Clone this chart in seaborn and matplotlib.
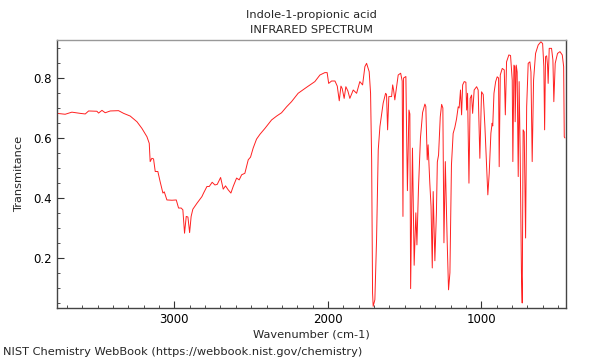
import numpy as np
import pandas as pd
import matplotlib
matplotlib.use("Agg")
import matplotlib.pyplot as plt
from matplotlib.ticker import MultipleLocator
import seaborn as sns

# IR spectrum of Indole-1-propionic acid
wavenumber = [
    3764, 3712, 3668, 3614, 3581, 3559, 3505, 3494, 3472, 3451,
    3418, 3364, 3331, 3288, 3244, 3212, 3179, 3164, 3158, 3147,
    3136, 3125, 3108, 3093, 3075, 3066, 3049, 3016, 2988, 2973,
    2956, 2945, 2934, 2923, 2912, 2901, 2891, 2880, 2853, 2821,
    2810, 2788, 2773, 2754, 2736, 2721, 2699, 2682, 2667, 2650,
    2632, 2617, 2595, 2578, 2562, 2541, 2530, 2519, 2504, 2487,
    2465, 2443, 2410, 2367, 2334, 2302, 2269, 2237, 2194, 2139,
    2085, 2052, 2020, 2005, 1995, 1976, 1954, 1939, 1926, 1915,
    1907, 1894, 1883, 1870, 1857, 1835, 1813, 1792, 1774, 1759,
    1748, 1731, 1722, 1715, 1709, 1705, 1694, 1683, 1672, 1661,
    1640, 1624, 1618, 1611, 1603, 1585, 1578, 1572, 1564, 1542,
    1526, 1516, 1511, 1507, 1492, 1482, 1472, 1466, 1461, 1449,
    1438, 1427, 1420, 1410, 1397, 1383, 1368, 1362, 1353, 1347,
    1336, 1328, 1320, 1314, 1303, 1293, 1287, 1279, 1268, 1259,
    1251, 1244, 1235, 1223, 1214, 1205, 1195, 1184, 1173, 1162,
    1151, 1145, 1136, 1129, 1122, 1112, 1101, 1096, 1090, 1081,
    1073, 1064, 1057, 1047, 1031, 1021, 1010, 999, 988, 977,
    966, 958, 949, 938, 930, 926, 918, 907, 897, 888,
    884, 877, 864, 851, 844, 836, 821, 810, 799, 795,
    788, 782, 780, 773, 767, 760, 754, 747, 739, 734,
    728, 721, 712, 705, 695, 684, 677, 669, 660, 647,
    630, 612, 601, 593, 588, 582, 575, 569, 565, 558,
    543, 534, 528, 519, 504, 488, 473, 464, 460, 456,
]
transmittance = [
    0.682, 0.679, 0.686, 0.682, 0.680, 0.690, 0.689, 0.683, 0.692, 0.684,
    0.690, 0.691, 0.682, 0.673, 0.654, 0.632, 0.604, 0.582, 0.521, 0.532,
    0.530, 0.488, 0.488, 0.454, 0.416, 0.420, 0.393, 0.392, 0.393, 0.366,
    0.366, 0.360, 0.282, 0.338, 0.336, 0.284, 0.338, 0.362, 0.382, 0.404,
    0.416, 0.438, 0.438, 0.452, 0.443, 0.445, 0.468, 0.429, 0.440, 0.427,
    0.416, 0.438, 0.466, 0.460, 0.477, 0.482, 0.504, 0.527, 0.536, 0.566,
    0.596, 0.612, 0.632, 0.660, 0.673, 0.684, 0.704, 0.721, 0.749, 0.769,
    0.788, 0.810, 0.818, 0.818, 0.782, 0.790, 0.790, 0.773, 0.724, 0.773,
    0.765, 0.732, 0.771, 0.757, 0.732, 0.760, 0.749, 0.788, 0.777, 0.838,
    0.849, 0.821, 0.749, 0.527, 0.082, 0.038, 0.060, 0.260, 0.560, 0.638,
    0.716, 0.749, 0.745, 0.627, 0.738, 0.738, 0.777, 0.760, 0.727, 0.810,
    0.816, 0.790, 0.338, 0.800, 0.805, 0.424, 0.693, 0.680, 0.097, 0.566,
    0.175, 0.350, 0.243, 0.430, 0.600, 0.685, 0.713, 0.705, 0.527, 0.577,
    0.449, 0.371, 0.166, 0.421, 0.190, 0.350, 0.520, 0.543, 0.670, 0.712,
    0.700, 0.250, 0.521, 0.257, 0.093, 0.150, 0.510, 0.615, 0.635, 0.663,
    0.704, 0.700, 0.760, 0.677, 0.777, 0.788, 0.786, 0.693, 0.749, 0.449,
    0.732, 0.743, 0.682, 0.760, 0.771, 0.760, 0.532, 0.754, 0.745, 0.638,
    0.504, 0.410, 0.482, 0.616, 0.649, 0.640, 0.749, 0.788, 0.804, 0.800,
    0.504, 0.810, 0.832, 0.827, 0.677, 0.854, 0.877, 0.875, 0.793, 0.521,
    0.843, 0.838, 0.654, 0.843, 0.820, 0.471, 0.788, 0.538, 0.149, 0.049,
    0.627, 0.620, 0.266, 0.704, 0.849, 0.854, 0.820, 0.521, 0.793, 0.882,
    0.910, 0.921, 0.915, 0.838, 0.627, 0.871, 0.874, 0.843, 0.782, 0.899,
    0.899, 0.860, 0.721, 0.849, 0.882, 0.888, 0.877, 0.838, 0.604, 0.600,
]

title = "Indole-1-propionic acid\nINFRARED SPECTRUM"
footer = "NIST Chemistry WebBook (https://webbook.nist.gov/chemistry)"

df = pd.DataFrame({"Wavenumber": wavenumber, "Transmittance": transmittance})

sns.set_style("ticks")
plt.rcParams["font.family"] = ["DejaVu Sans"]

fig = plt.figure(figsize=(6, 3.6), dpi=100)
ax = fig.add_axes([0.095, 0.145, 0.848, 0.744])

sns.lineplot(data=df, x="Wavenumber", y="Transmittance", color="#ff2020",
             linewidth=0.7, estimator=None, sort=False, ax=ax)

ax.set_xlim(3765, 450)
ax.set_ylim(0.033, 0.927)
ax.xaxis.set_major_locator(MultipleLocator(1000))
ax.xaxis.set_minor_locator(MultipleLocator(100))
ax.yaxis.set_major_locator(MultipleLocator(0.2))
ax.yaxis.set_minor_locator(MultipleLocator(0.05))
ax.tick_params(which="both", direction="in", labelsize=8.5, colors="#333333",
               labelcolor="black")
ax.tick_params(which="major", length=5, width=0.8)
ax.tick_params(which="minor", length=2.5, width=0.6)

for side in ["left", "bottom", "right"]:
    ax.spines[side].set_color("#444444")
    ax.spines[side].set_linewidth(1.0)
ax.spines["top"].set_color("#999999")
ax.spines["top"].set_linewidth(1.0)

ax.set_xlabel("Wavenumber (cm-1)", fontsize=8.2, labelpad=3)
ax.set_ylabel("Transmitance", fontsize=8.2, labelpad=7)

fig.text(0.519, 0.938, title, ha="center", va="center", fontsize=8.2,
         linespacing=1.55)
fig.text(0.005, 0.022, footer, ha="left", va="center", fontsize=8.2)

fig.savefig("out.png", dpi=100)
plt.close(fig)
